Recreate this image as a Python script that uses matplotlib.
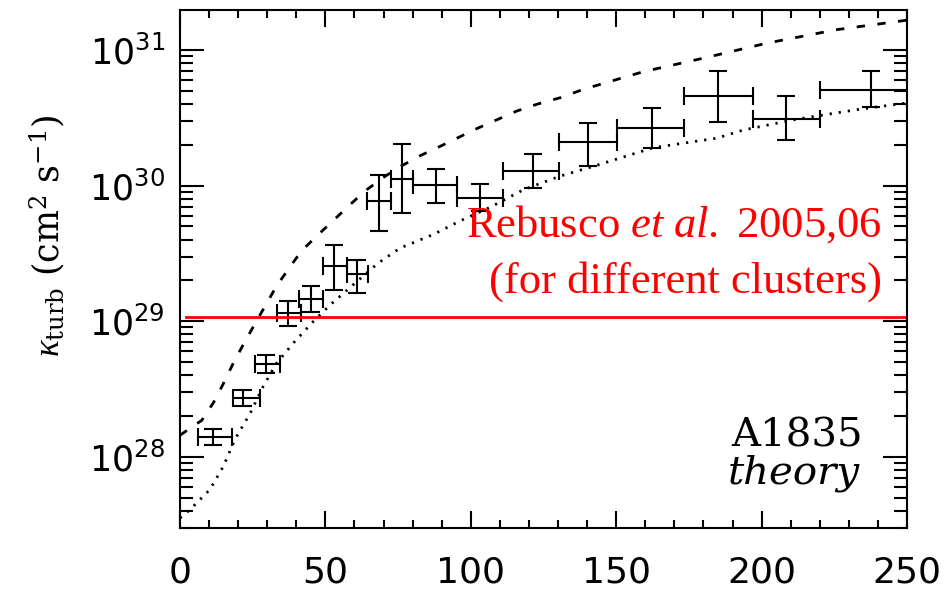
import numpy as np
import matplotlib
matplotlib.use('Agg')
import matplotlib.pyplot as plt

plt.rcParams['font.family'] = ['DejaVu Sans']
plt.rcParams['mathtext.fontset'] = 'custom'
plt.rcParams['mathtext.rm'] = 'Liberation Serif'
plt.rcParams['mathtext.it'] = 'Liberation Serif:italic'

# measured points (x in kpc, y as log10 of kappa)
x_mid = [11.5, 21.8, 29.6, 37.3, 45.0, 53.1, 61.0, 68.5, 76.2, 88.0, 103.2,
         121.5, 140.4, 162.2, 185.1, 208.4, 237.5]
x_lo = [6.3, 18.1, 25.8, 33.2, 41.0, 49.1, 57.3, 64.2, 72.5, 80.2, 95.4,
        111.2, 130.4, 150.2, 173.3, 197.1, 220.1]
x_hi = [18.0, 27.5, 34.4, 41.5, 49.3, 57.3, 64.8, 72.5, 80.2, 95.4, 111.2,
        130.4, 150.2, 173.3, 196.9, 220.1, 255.0]
logk_mid = [28.146, 28.438, 28.687, 29.060, 29.164, 29.404, 29.350, 29.884, 30.049,
            30.002, 29.909, 30.110, 30.324, 30.425, 30.663, 30.491, 30.702]
logk_lo = [28.085, 28.375, 28.622, 28.962, 29.072, 29.227, 29.208, 29.662, 29.802,
           29.872, 29.810, 29.982, 30.147, 30.277, 30.466, 30.339, 30.580]
logk_hi = [28.203, 28.493, 28.753, 29.146, 29.257, 29.564, 29.454, 30.080, 30.309,
           30.122, 30.014, 30.233, 30.462, 30.572, 30.842, 30.658, 30.842]

# theory curves
dash_x = [0, 7.5, 11.5, 14.9, 18.3, 21.8, 25.2, 29.2, 33.2, 37.8, 41.8, 47.6, 59.0,
          63.6, 69.9, 75.7, 82.5, 88.5, 102, 115.8, 122.7, 131, 138.7, 159.3, 180,
          201.7, 225.8, 250]
dash_logk = [28.16, 28.27, 28.40, 28.54, 28.69, 28.83, 28.96, 29.11, 29.26, 29.40,
             29.52, 29.64, 29.87, 29.96, 30.06, 30.14, 30.22, 30.28, 30.42, 30.55,
             30.60, 30.65, 30.71, 30.84, 30.94, 31.05, 31.15, 31.22]
dot_x = [0, 3.4, 10.3, 14.9, 18.9, 24.1, 28.6, 33.2, 39.0, 45.9, 51.6, 59.6, 68.2,
         75.7, 87.1, 96.3, 106.6, 118.1, 130.7, 143.3, 162.8, 184.6, 193.7, 212.1,
         232.7, 250]
dot_logk = [27.55, 27.61, 27.76, 27.93, 28.13, 28.32, 28.52, 28.69, 28.84, 29.00,
            29.12, 29.27, 29.43, 29.54, 29.64, 29.74, 29.84, 29.97, 30.07, 30.15,
            30.28, 30.35, 30.41, 30.49, 30.56, 30.61]

rebusco_logk = 29.035
rebusco_x = [2, 250]

x_mid = np.array(x_mid)
y_mid = 10 ** np.array(logk_mid)
xerr = [x_mid - np.array(x_lo), np.array(x_hi) - x_mid]
yerr = [y_mid - 10 ** np.array(logk_lo), 10 ** np.array(logk_hi) - y_mid]

fig = plt.figure(figsize=(9.46, 5.9), dpi=100)
ax = fig.add_axes([180 / 946, 62 / 590, 727 / 946, 518 / 590])

ax.errorbar(x_mid, y_mid, xerr=xerr, yerr=yerr, fmt='none', ecolor='k',
            elinewidth=1.5, capsize=6.5, capthick=1.5)

l1, = ax.plot(dash_x, 10 ** np.array(dash_logk), color='k', lw=2)
l1.set_dashes([3, 4.5])
l2, = ax.plot(dot_x, 10 ** np.array(dot_logk), color='k', lw=2)
l2.set_dashes([0.8, 2.5])

ax.plot(rebusco_x, [10 ** rebusco_logk] * 2, color='#ff0000', lw=2)

ax.set_yscale('log')
ax.set_xlim(0, 250)
ax.set_ylim(10 ** 27.476, 10 ** 31.295)
ax.set_xticks([0, 50, 100, 150, 200, 250])
ax.xaxis.set_minor_locator(matplotlib.ticker.MultipleLocator(10))
ax.set_yticks([1e28, 1e29, 1e30, 1e31])

for s in ax.spines.values():
    s.set_linewidth(1.5)
ax.tick_params(which='both', direction='in', top=True, right=True, width=1.5)
ax.tick_params(axis='x', which='major', length=12, labelsize=26, pad=20)
ax.tick_params(axis='x', which='minor', length=6)
ax.tick_params(axis='y', which='major', length=17, labelsize=25, pad=11)
ax.tick_params(axis='y', which='minor', length=9.5)

ax.set_ylabel(r'$\kappa_{\mathdefault{turb}}$ (cm$^{\mathdefault{2}}$ s$^{\mathdefault{-1}}$)',
              fontsize=25, family='DejaVu Serif', va='center')
ax.yaxis.set_label_coords(-0.183, 0.564)

ax.text(0.9656, 0.5618, r'Rebusco $\mathit{et\ al.}$ 2005,06', transform=ax.transAxes,
        ha='right', va='baseline', color='#ff0000', fontsize=32, family='Liberation Serif')
ax.text(0.9656, 0.4537, '(for different clusters)', transform=ax.transAxes,
        ha='right', va='baseline', color='#ff0000', fontsize=32, family='Liberation Serif')

ax.text(0.9395, 0.1564, 'A1835', transform=ax.transAxes, ha='right', va='baseline',
        fontsize=29, family='DejaVu Serif')
ax.text(0.9353, 0.0850, 'theory', transform=ax.transAxes, ha='right', va='baseline',
        fontsize=29, family='DejaVu Serif', style='italic')

fig.savefig('out.png', dpi=100)
